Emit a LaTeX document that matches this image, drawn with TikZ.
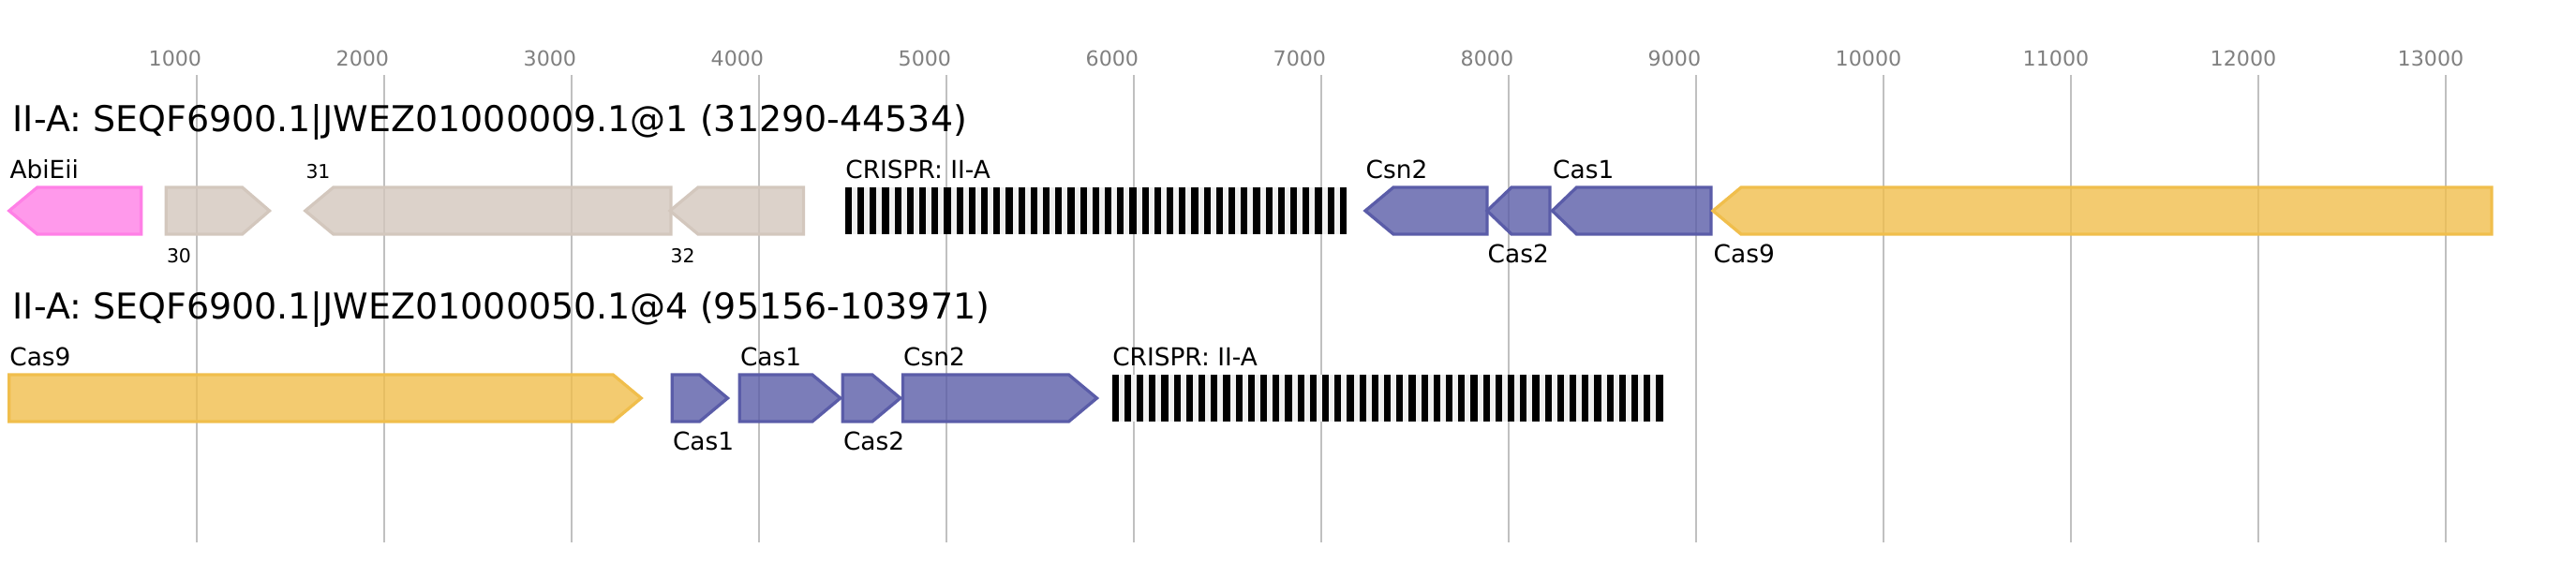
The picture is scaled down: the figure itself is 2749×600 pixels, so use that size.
\documentclass[tikz,border=0pt]{standalone}
\usepackage{fontspec}
\setmainfont{DejaVu Sans}
\definecolor{casblue}{HTML}{5A5CA8}
\definecolor{casgold}{HTML}{F0BE4C}
\definecolor{othergray}{HTML}{D3C7BD}
\definecolor{abipink}{HTML}{FF80E6}
\definecolor{gridgray}{HTML}{C0C0C0}
\definecolor{crgray}{HTML}{F0F0F0}
\def\fwd#1#2#3{(#1,0) -- (#2-#3,0) -- (#2,25) -- (#2-#3,50) -- (#1,50) -- cycle}
\def\rev#1#2#3{(#1,25) -- (#1+#3,0) -- (#2,0) -- (#2,50) -- (#1+#3,50) -- cycle}
\def\crispr#1#2{\fill[crgray] (#1,0) rectangle (#1+13.2*#2-6,50);
    \foreach \i in {1,...,#2} \fill (#1+13.2*\i-13.2,0) rectangle ++(7.2,50);}

\begin{document}
\begin{tikzpicture}[x=0.01cm, y=-0.01cm,
    gene/.style={line width=0.94pt, line join=miter, fill opacity=0.8},
    cas/.style={gene, draw=casblue, fill=casblue},
    cas9/.style={gene, draw=casgold, fill=casgold},
    other/.style={gene, draw=othergray, fill=othergray},
    abi/.style={gene, draw=abipink, fill=abipink},
    lab/.style={anchor=base west, inner sep=0, font=\fontsize{7.5}{9}\selectfont},
    num/.style={lab, font=\fontsize{5.8}{7}\selectfont},
    tk/.style={anchor=base west, inner sep=0, text=gray, font=\fontsize{6.3}{7}\selectfont},
    ttl/.style={anchor=base west, inner sep=0, font=\fontsize{10.8}{13}\selectfont},
    gridline/.style={draw=gridgray, line width=0.57pt}]
    \useasboundingbox (0,0) rectangle (2749,600);
    \foreach \k in {1,...,13} {
        \draw[gridline] (9.7+200*\k,80) -- (9.7+200*\k,579);
        \node[tk] (tk\k) at (200*\k-42,70) {\k000};
    }
    \node[ttl] (titleA) at (13,140) {II-A: SEQF6900.1|JWEZ01000009.1@1 (31290-44534)};
    \begin{scope}[shift={(0,200)}]
        \draw[abi] \rev{9.8}{150.6}{30};
        \draw[other] \fwd{177.3}{287.5}{29};
        \draw[other] \rev{325.8}{716}{30};
        \draw[other] \rev{715}{857.5}{30};
        \crispr{901.7}{41}
        \draw[cas] \rev{1457}{1587}{30};
        \draw[cas] \rev{1587}{1654}{26};
        \draw[cas] \rev{1656.5}{1826}{26};
        \draw[cas9] \rev{1828}{2659}{30};
        \node[lab] (abieii) at (9.8,-9.5) {AbiEii};
        \node[num] (g30) at (177.3,80) {30};
        \node[num] (g31) at (325.8,-10) {31};
        \node[num] (g32) at (715,80) {32};
        \node[lab] (crA) at (901.7,-9.5) {CRISPR: II-A};
        \node[lab] (csn2A) at (1457,-9.5) {Csn2};
        \node[lab] (cas2A) at (1587,80) {Cas2};
        \node[lab] (cas1A) at (1656.5,-9.5) {Cas1};
        \node[lab] (cas9A) at (1828,80) {Cas9};
    \end{scope}
    \node[ttl] (titleB) at (13,340) {II-A: SEQF6900.1|JWEZ01000050.1@4 (95156-103971)};
    \begin{scope}[shift={(0,400)}]
        \draw[cas9] \fwd{9.7}{684.2}{30};
        \draw[cas] \fwd{717.3}{776.5}{30};
        \draw[cas] \fwd{789.3}{896.8}{30};
        \draw[cas] \fwd{899.3}{960.8}{30};
        \draw[cas] \fwd{963.5}{1170.5}{30};
        \crispr{1186.6}{45}
        \node[lab] (cas9B) at (9.7,-9.5) {Cas9};
        \node[lab] (cas1B) at (717.3,80) {Cas1};
        \node[lab] (cas1C) at (789.3,-9.5) {Cas1};
        \node[lab] (cas2B) at (899.3,80) {Cas2};
        \node[lab] (csn2B) at (963.5,-9.5) {Csn2};
        \node[lab] (crB) at (1186.6,-9.5) {CRISPR: II-A};
    \end{scope}
\end{tikzpicture}
\end{document}
